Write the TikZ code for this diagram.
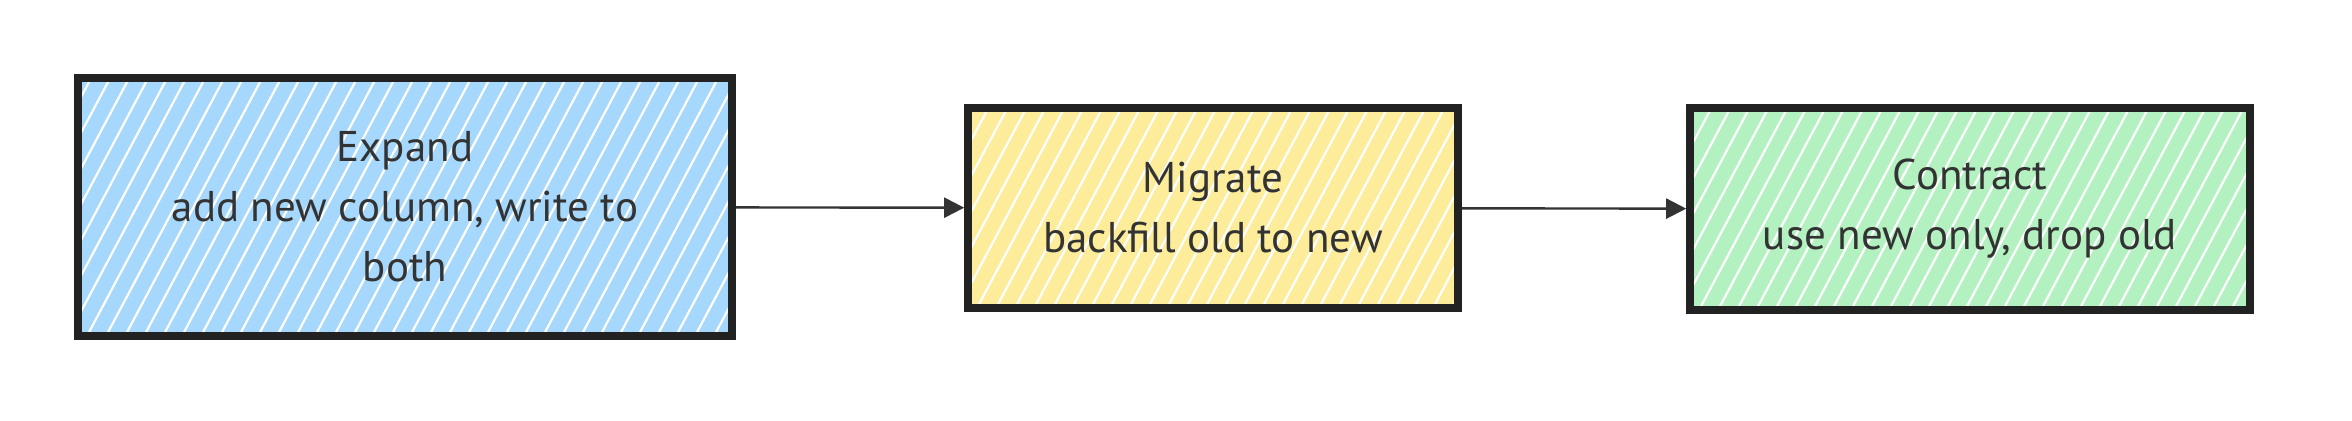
\documentclass[tikz,border=0pt]{standalone}
\usepackage{fontspec}
\setmainfont{PT Sans}
\usetikzlibrary{arrows.meta,positioning}

\definecolor{ink}{HTML}{222222}
\definecolor{txt}{HTML}{333333}
\definecolor{expandfill}{HTML}{A6D8FD}
\definecolor{migratefill}{HTML}{FDEC99}
\definecolor{contractfill}{HTML}{B3F2C0}

\begin{document}
\begin{tikzpicture}[
            x=0.5pt,y=-0.5pt,
            stage/.style={draw=ink,line width=3.8pt,text=txt,align=center,
              font=\fontsize{21.5}{30}\selectfont,inner sep=0pt,
              path picture={
                \foreach \k in {0,...,55}
                  \draw[white,line width=1.1pt]
                    ([xshift=\k*9.5pt-100pt]path picture bounding box.south west) -- ++(62:300pt);
              }},
            link/.style={draw=txt,line width=1.2pt,-{Triangle[length=10pt,width=10pt]}}
          ]
          \useasboundingbox (0,0) rectangle (2352,420);

          %stages
          \node[stage,fill=expandfill,minimum width=327pt,minimum height=129pt] (expand) at (405,207)
            {Expand\\add new column, write to\\both};
          \node[stage,fill=migratefill,minimum width=245pt,minimum height=100pt] (migrate) at (1213,208)
            {Migrate\\backfill old to new};
          \node[stage,fill=contractfill,minimum width=280pt,minimum height=101pt] (contract) at (1970,209)
            {Contract\\use new only, drop old};

          %links
          \path[link] (expand) -- (migrate);
          \path[link] (migrate) -- (contract);
      \end{tikzpicture}
\end{document}
